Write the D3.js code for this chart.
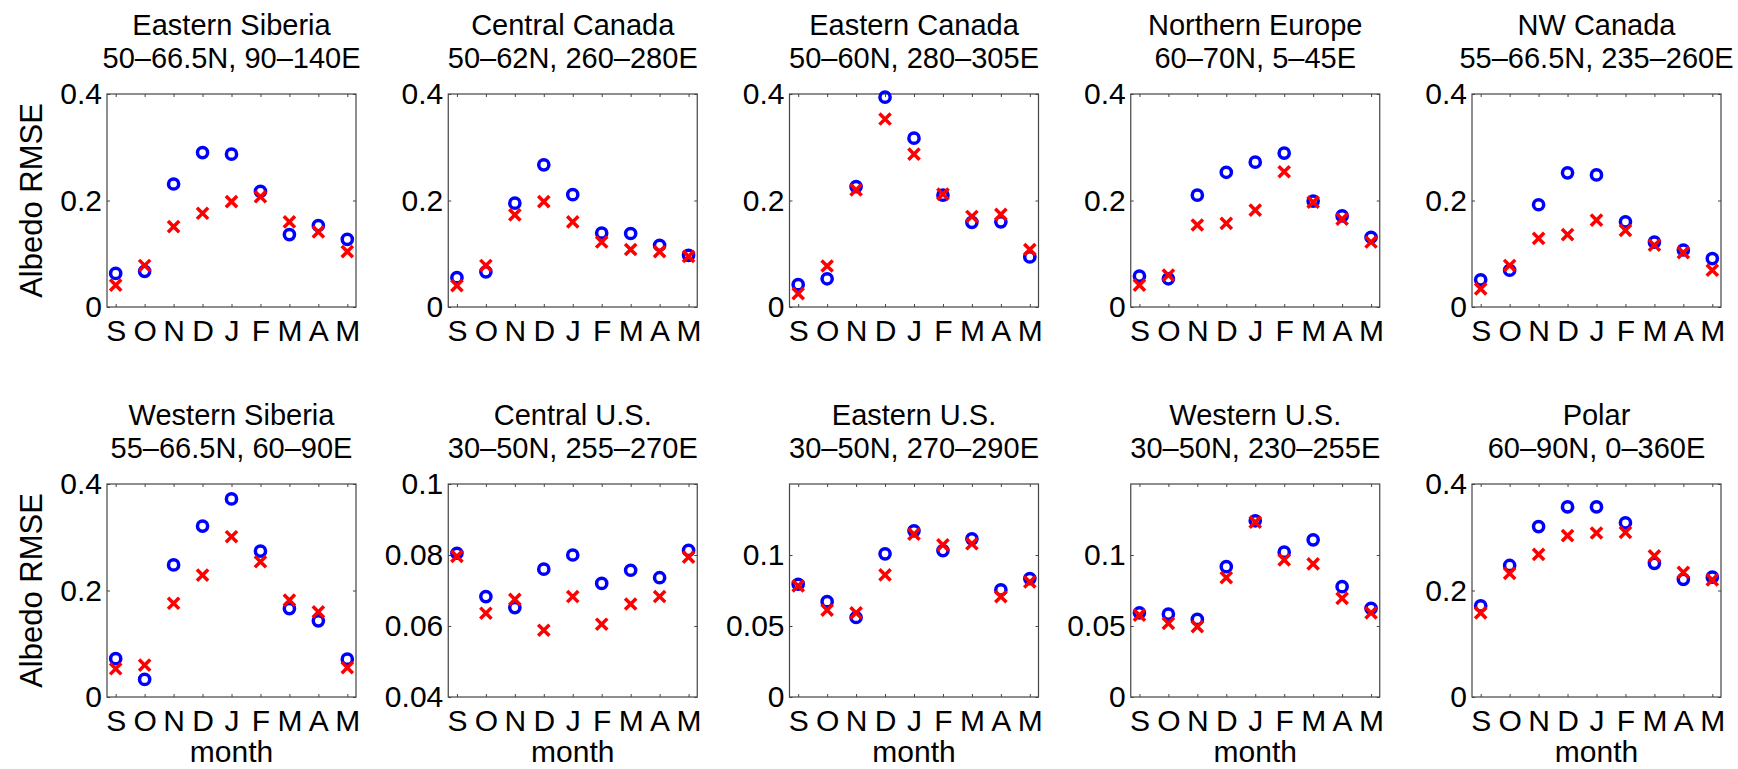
<!DOCTYPE html>
<html>
<head>
<meta charset="utf-8">
<script src="https://cdn.jsdelivr.net/npm/d3@7.9.0/dist/d3.min.js"></script>
<style>
  html, body { margin: 0; padding: 0; background: #fff; }
  svg { display: block; font-family: "Liberation Sans", Arial, Helvetica, sans-serif; }
</style>
</head>
<body>
<svg id="chart" width="1738" height="769"></svg>
<script>
// month ticks (Sep .. May)
const months = ['S', 'O', 'N', 'D', 'J', 'F', 'M', 'A', 'M'];

// panel titles
const regionNames = ['Eastern Siberia', 'Central Canada', 'Eastern Canada', 'Northern Europe', 'NW Canada',
  'Western Siberia', 'Central U.S.', 'Eastern U.S.', 'Western U.S.', 'Polar'];
const regionBounds = ['50–66.5N, 90–140E', '50–62N, 260–280E', '50–60N, 280–305E', '60–70N, 5–45E',
  '55–66.5N, 235–260E', '55–66.5N, 60–90E', '30–50N, 255–270E', '30–50N, 270–290E',
  '30–50N, 230–255E', '60–90N, 0–360E'];

// y limits and labelled ticks per panel
const yDomains = [[0, 0.4], [0, 0.4], [0, 0.4], [0, 0.4], [0, 0.4],
  [0, 0.4], [0.04, 0.1], [0, 0.15], [0, 0.15], [0, 0.4]];
const yTickValues = [[0, 0.2, 0.4], [0, 0.2, 0.4], [0, 0.2, 0.4], [0, 0.2, 0.4], [0, 0.2, 0.4],
  [0, 0.2, 0.4], [0.04, 0.06, 0.08, 0.1], [0, 0.05, 0.1], [0, 0.05, 0.1], [0, 0.2, 0.4]];

// blue circles
const circleRmse = [
  [0.063, 0.067, 0.231, 0.290, 0.287, 0.217, 0.136, 0.153, 0.127],
  [0.055, 0.066, 0.195, 0.267, 0.211, 0.139, 0.138, 0.116, 0.097],
  [0.042, 0.053, 0.226, 0.394, 0.317, 0.210, 0.159, 0.160, 0.094],
  [0.058, 0.053, 0.210, 0.253, 0.272, 0.289, 0.199, 0.171, 0.131],
  [0.051, 0.069, 0.192, 0.252, 0.248, 0.160, 0.122, 0.107, 0.091],
  [0.072, 0.033, 0.248, 0.321, 0.372, 0.274, 0.166, 0.143, 0.071],
  [0.0805, 0.0683, 0.0652, 0.0760, 0.0800, 0.0720, 0.0757, 0.0736, 0.0813],
  [0.0794, 0.0671, 0.0560, 0.1008, 0.1170, 0.1031, 0.1114, 0.0754, 0.0834],
  [0.0593, 0.0584, 0.0546, 0.0918, 0.1241, 0.1020, 0.1107, 0.0777, 0.0624],
  [0.171, 0.247, 0.320, 0.357, 0.357, 0.327, 0.251, 0.221, 0.225]
];

// red crosses
const crossRmse = [
  [0.041, 0.078, 0.151, 0.176, 0.198, 0.207, 0.160, 0.141, 0.104],
  [0.040, 0.078, 0.173, 0.198, 0.160, 0.122, 0.108, 0.104, 0.095],
  [0.025, 0.077, 0.220, 0.353, 0.287, 0.212, 0.170, 0.174, 0.108],
  [0.041, 0.060, 0.154, 0.157, 0.182, 0.254, 0.197, 0.165, 0.122],
  [0.034, 0.078, 0.129, 0.136, 0.163, 0.144, 0.116, 0.102, 0.069],
  [0.053, 0.060, 0.176, 0.229, 0.301, 0.254, 0.182, 0.160, 0.055],
  [0.0796, 0.0636, 0.0675, 0.0588, 0.0683, 0.0605, 0.0662, 0.0683, 0.0794],
  [0.0782, 0.0612, 0.0593, 0.0860, 0.1147, 0.1071, 0.1079, 0.0706, 0.0810],
  [0.0577, 0.0518, 0.0495, 0.0841, 0.1232, 0.0966, 0.0937, 0.0695, 0.0593],
  [0.158, 0.232, 0.268, 0.303, 0.308, 0.309, 0.265, 0.234, 0.220]
];

// layout
const panelW = 249, panelH = 213;
const panelLeft0 = 107, panelStep = 341.25;
const rowTops = [94, 484];
const fontSize = 30;

const svg = d3.select('#chart');
svg.append('rect').attr('width', 1738).attr('height', 769).attr('fill', '#fff');

const x = d3.scaleLinear().domain([0.7, 9.3]).range([0, panelW]);
const monthIdx = d3.range(1, 10);

regionNames.forEach((name, i) => {
  const row = Math.floor(i / 5), col = i % 5;
  const g = svg.append('g')
    .attr('transform', `translate(${panelLeft0 + col * panelStep},${rowTops[row]})`);

  const y = d3.scaleLinear().domain(yDomains[i]).range([panelH, 0]);
  const fmt = d => String(+d.toFixed(3));

  // bottom axis with month letters
  const xAx = g.append('g')
    .attr('transform', `translate(0,${panelH})`)
    .call(d3.axisBottom(x).tickValues(monthIdx).tickFormat(d => months[d - 1])
      .tickSizeInner(-3).tickSizeOuter(0).tickPadding(13));
  // top mirror ticks
  const xTop = g.append('g')
    .call(d3.axisTop(x).tickValues(monthIdx).tickFormat('').tickSizeInner(-3).tickSizeOuter(0));
  // left axis
  const yAx = g.append('g')
    .call(d3.axisLeft(y).tickValues(yTickValues[i]).tickFormat(fmt)
      .tickSizeInner(-3).tickSizeOuter(0).tickPadding(5));
  // right mirror ticks
  const yRight = g.append('g')
    .attr('transform', `translate(${panelW},0)`)
    .call(d3.axisRight(y).tickValues(yTickValues[i]).tickFormat('').tickSizeInner(-3).tickSizeOuter(0));

  [xAx, xTop, yAx, yRight].forEach(a => {
    a.select('.domain').remove();
    a.selectAll('line').attr('stroke', '#444').attr('stroke-width', 1);
    a.selectAll('text').attr('fill', '#000').attr('font-size', fontSize)
      .attr('font-family', '"Liberation Sans", Arial, sans-serif');
  });

  // axes box
  g.append('rect')
    .attr('width', panelW).attr('height', panelH)
    .attr('fill', 'none').attr('stroke', '#444').attr('stroke-width', 1.2);

  // title, two lines
  const t = g.append('text')
    .attr('text-anchor', 'middle')
    .attr('font-size', 29)
    .attr('fill', '#000');
  t.append('tspan').attr('x', panelW / 2).attr('y', -59).text(name);
  t.append('tspan').attr('x', panelW / 2).attr('y', -26).text(regionBounds[i]);

  // blue circles
  g.append('g').selectAll('circle')
    .data(circleRmse[i])
    .join('circle')
    .attr('cx', (d, k) => x(k + 1))
    .attr('cy', d => y(d))
    .attr('r', 5.1)
    .attr('fill', 'none')
    .attr('stroke', '#0000ff')
    .attr('stroke-width', 3.5);

  // red crosses
  g.append('g').selectAll('path')
    .data(crossRmse[i])
    .join('path')
    .attr('transform', (d, k) => `translate(${x(k + 1)},${y(d)})`)
    .attr('d', 'M-5.6,-5.6L5.6,5.6M-5.6,5.6L5.6,-5.6')
    .attr('fill', 'none')
    .attr('stroke', '#ff0000')
    .attr('stroke-width', 3.5);

  if (col === 0) {
    g.append('text')
      .attr('transform', `translate(-65,${panelH / 2}) rotate(-90)`)
      .attr('text-anchor', 'middle')
      .attr('font-size', 31)
      .attr('fill', '#000')
      .text('Albedo RMSE');
  }
  if (row === 1) {
    g.append('text')
      .attr('x', panelW / 2)
      .attr('y', panelH + 65)
      .attr('text-anchor', 'middle')
      .attr('font-size', 30)
      .attr('fill', '#000')
      .text('month');
  }
});
</script>
</body>
</html>
